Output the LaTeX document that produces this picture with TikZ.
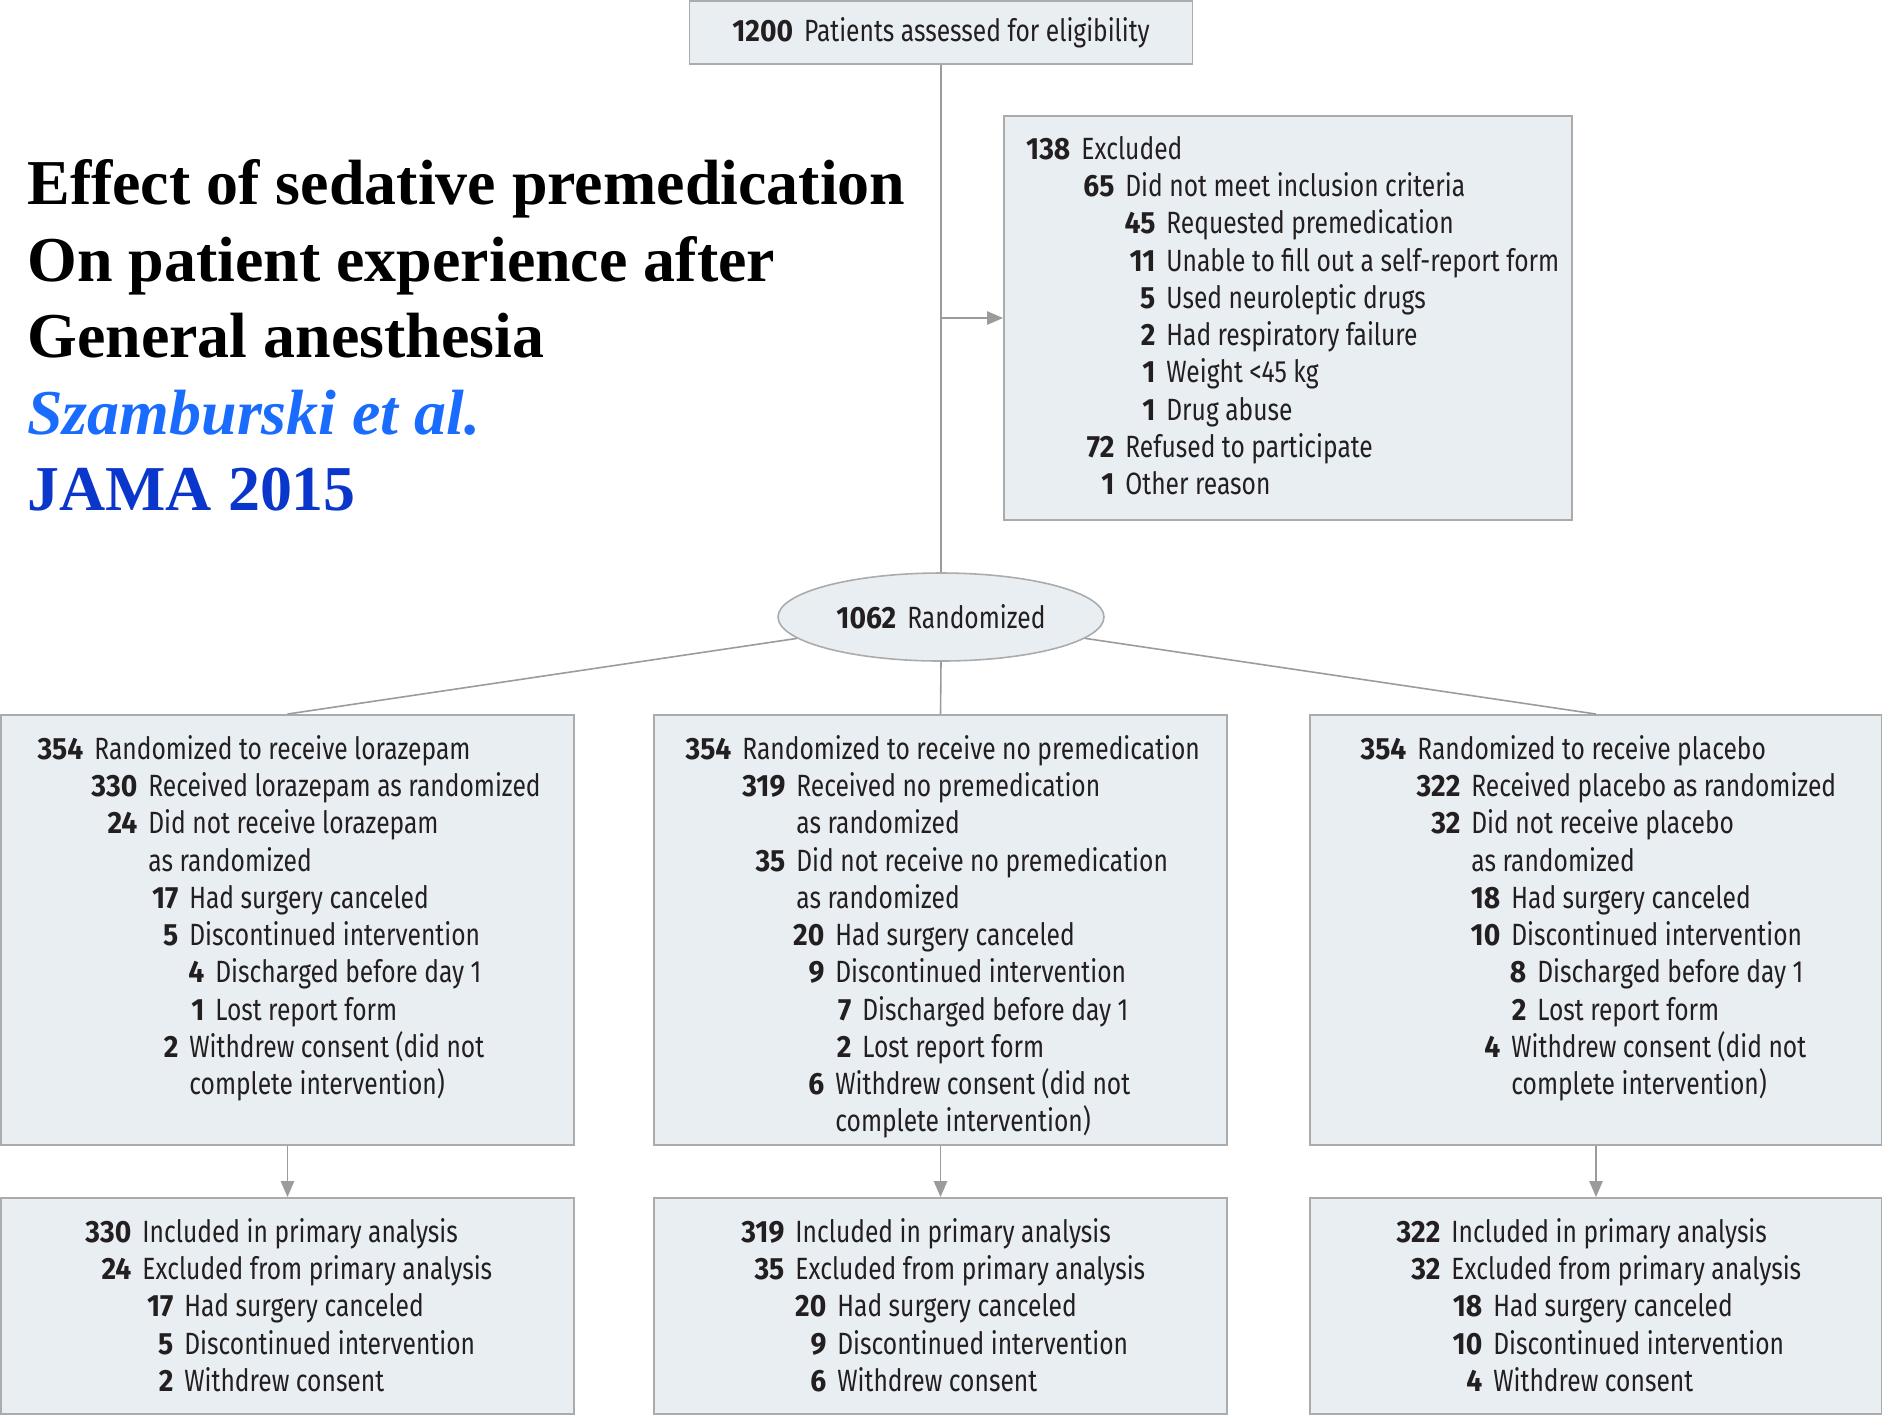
\documentclass[tikz,border=0pt]{standalone}
\usepackage{fontspec}
\setmainfont{Fira Sans}[FakeStretch=0.8]
\newfontfamily\numfont{Fira Sans}[FakeStretch=0.92]
\newfontfamily\titlefont{Liberation Serif}
\usetikzlibrary{positioning}
\usetikzlibrary{arrows.meta}
\usetikzlibrary{shapes.geometric}
\definecolor{boxfill}{HTML}{E8EEF2}
\definecolor{boxline}{HTML}{ABABAB}
\definecolor{conn}{HTML}{9B9B9B}
\definecolor{ink}{HTML}{231F20}
\definecolor{authblue}{HTML}{1A6CFF}
\definecolor{jamablue}{HTML}{0B36CC}
\newdimen\pxu \pxu=0.02cm
\newcommand{\num}[1]{{\numfont\bfseries #1}}
\newcommand{\nrow}[3]{\hspace*{#1\pxu}\llap{\num{#2}\hspace{11\pxu}}#3}
\newcommand{\crow}[2]{\hspace*{#1\pxu}#2}
\tikzset{
    boxn/.style = {rectangle, draw=boxline, line width=1.1pt, fill=boxfill, inner sep=0pt, text=ink, font=\fontsize{17.5}{21.1}\selectfont},
    randn/.style = {ellipse, draw=boxline, line width=0.9pt, fill=boxfill, inner sep=0pt, text=ink, font=\fontsize{17.5}{21.1}\selectfont},
    txtn/.style = {anchor=north west, inner sep=0pt, align=left, text=ink, font=\fontsize{17.5}{21.2}\selectfont},
    titlen/.style = {anchor=north west, inner sep=0pt, align=left, font=\titlefont\bfseries\fontsize{36.4}{43.6}\selectfont},
    edgen/.style = {-, line width=0.9pt, draw=conn},
    edgea/.style = {-{Triangle[length=9pt,width=7.5pt]}, line width=0.9pt, draw=conn}
}
\begin{document}
\begin{tikzpicture}[x=0.02cm, y=-0.02cm]
\path[use as bounding box, fill=white] (0,0) rectangle (1882,1418);
%
\node[titlen] (title) at (27,159) {Effect of sedative premedication\\On patient experience after\\General anesthesia\\\textcolor{authblue}{\itshape Szamburski et al.}\\\textcolor{jamablue}{JAMA 2015}};
%
\node[boxn, minimum width=503\pxu, minimum height=63\pxu] (elig) at (941,32.5) {\num{1200}\hspace{11\pxu}Patients assessed for eligibility};
\node[boxn, minimum width=568\pxu, minimum height=404\pxu] (excl) at (1288,318) {};
\node[randn, minimum width=326\pxu, minimum height=88\pxu] (rand) at (941,617) {\num{1062}\hspace{11\pxu}Randomized};
%
\node[boxn, minimum width=573\pxu, minimum height=430\pxu] (lora) at (287.5,930) {};
\node[boxn, minimum width=573\pxu, minimum height=430\pxu] (nopre) at (940.5,930) {};
\node[boxn, minimum width=572\pxu, minimum height=430\pxu] (plac) at (1596,930) {};
\node[boxn, minimum width=573\pxu, minimum height=216\pxu] (lorab) at (287.5,1306) {};
\node[boxn, minimum width=573\pxu, minimum height=216\pxu] (nopreb) at (940.5,1306) {};
\node[boxn, minimum width=572\pxu, minimum height=216\pxu] (placb) at (1596,1306) {};
%
\node[txtn] (excltxt) at ([shift={(0,21)}]excl.north west) {%
\nrow{78}{138}{Excluded}\\
\nrow{122}{65}{Did not meet inclusion criteria}\\
\nrow{163}{45}{Requested premedication}\\
\nrow{163}{11}{Unable to fill out a self-report form}\\
\nrow{163}{5}{Used neuroleptic drugs}\\
\nrow{163}{2}{Had respiratory failure}\\
\nrow{163}{1}{Weight <45 kg}\\
\nrow{163}{1}{Drug abuse}\\
\nrow{122}{72}{Refused to participate}\\
\nrow{122}{1}{Other reason}};
%
\node[txtn] (loratxt) at ([shift={(0,21)}]lora.north west) {%
\nrow{94}{354}{Randomized to receive lorazepam}\\
\nrow{148}{330}{Received lorazepam as randomized}\\
\nrow{148}{24}{Did not receive lorazepam}\\
\crow{148}{as randomized}\\
\nrow{189}{17}{Had surgery canceled}\\
\nrow{189}{5}{Discontinued intervention}\\
\nrow{215}{4}{Discharged before day 1}\\
\nrow{215}{1}{Lost report form}\\
\nrow{189}{2}{Withdrew consent (did not}\\
\crow{189}{complete intervention)}};
\node[txtn] (nopretxt) at ([shift={(0,21)}]nopre.north west) {%
\nrow{89}{354}{Randomized to receive no premedication}\\
\nrow{143}{319}{Received no premedication}\\
\crow{143}{as randomized}\\
\nrow{143}{35}{Did not receive no premedication}\\
\crow{143}{as randomized}\\
\nrow{182}{20}{Had surgery canceled}\\
\nrow{182}{9}{Discontinued intervention}\\
\nrow{209}{7}{Discharged before day 1}\\
\nrow{209}{2}{Lost report form}\\
\nrow{182}{6}{Withdrew consent (did not}\\
\crow{182}{complete intervention)}};
\node[txtn] (plactxt) at ([shift={(0,21)}]plac.north west) {%
\nrow{108}{354}{Randomized to receive placebo}\\
\nrow{162}{322}{Received placebo as randomized}\\
\nrow{162}{32}{Did not receive placebo}\\
\crow{162}{as randomized}\\
\nrow{202}{18}{Had surgery canceled}\\
\nrow{202}{10}{Discontinued intervention}\\
\nrow{228}{8}{Discharged before day 1}\\
\nrow{228}{2}{Lost report form}\\
\nrow{202}{4}{Withdrew consent (did not}\\
\crow{202}{complete intervention)}};
%
\node[txtn] (loratxtb) at ([shift={(0,21)}]lorab.north west) {%
\nrow{142}{330}{Included in primary analysis}\\
\nrow{142}{24}{Excluded from primary analysis}\\
\nrow{184}{17}{Had surgery canceled}\\
\nrow{184}{5}{Discontinued intervention}\\
\nrow{184}{2}{Withdrew consent}};
\node[txtn] (nopretxtb) at ([shift={(0,21)}]nopreb.north west) {%
\nrow{142}{319}{Included in primary analysis}\\
\nrow{142}{35}{Excluded from primary analysis}\\
\nrow{184}{20}{Had surgery canceled}\\
\nrow{184}{9}{Discontinued intervention}\\
\nrow{184}{6}{Withdrew consent}};
\node[txtn] (plactxtb) at ([shift={(0,21)}]placb.north west) {%
\nrow{142}{322}{Included in primary analysis}\\
\nrow{142}{32}{Excluded from primary analysis}\\
\nrow{184}{18}{Had surgery canceled}\\
\nrow{184}{10}{Discontinued intervention}\\
\nrow{184}{4}{Withdrew consent}};
%
\coordinate (junc) at (elig.south |- excl.west);
\draw[edgen] (elig.south) -- (rand.north);
\draw[edgea] (junc) -- (excl.west);
\draw[edgen] (rand) -- (lora.north);
\draw[edgen] (rand.south) -- (nopre.north);
\draw[edgen] (rand) -- (plac.north);
\draw[edgea] (lora.south) -- (lorab.north);
\draw[edgea] (nopre.south) -- (nopreb.north);
\draw[edgea] (plac.south) -- (placb.north);
\end{tikzpicture}
\end{document}
